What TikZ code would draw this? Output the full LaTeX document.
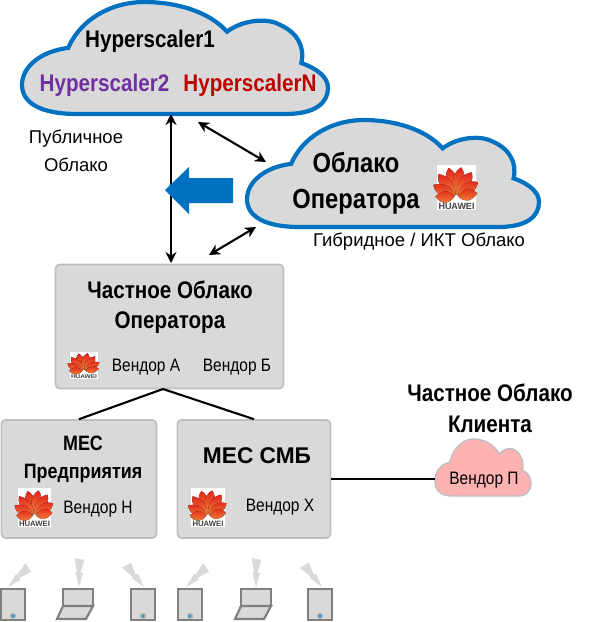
\documentclass[tikz,border=0pt]{standalone}
\usepackage{fontspec}
\setmainfont{Liberation Sans}
\newfontfamily\narrowfont[FakeStretch=0.86]{Liberation Sans}
\usetikzlibrary{arrows.meta}
\definecolor{cloudblue}{HTML}{0070C0}
\definecolor{panelgrey}{HTML}{D9D9D9}
\definecolor{panelline}{HTML}{BFBFBF}
\definecolor{hwred}{HTML}{E5231B}
\definecolor{hworange}{HTML}{F08A3C}
\newcommand{\cloudpath}{(.151,.41) .. controls (.19,.16) and (.29,0) .. (.40,0) .. controls (.50,0) and (.61,.08) .. (.67,.265) .. controls (.72,.16) and (.80,.14) .. (.84,.20) .. controls (.90,.27) and (.925,.40) .. (.913,.545) .. controls (.97,.60) and (1,.68) .. (1,.765) .. controls (1,.90) and (.96,1) .. (.86,1) -- (.18,1) .. controls (.06,1) and (0,.90) .. (0,.74) .. controls (0,.58) and (.06,.44) .. (.151,.41) -- cycle}
\tikzset{
  cloudbig/.style={draw=cloudblue,line width=4.2pt,fill=panelgrey},
  cloudsmall/.style={draw=panelline,line width=1.4pt,fill=red!30},
  panel/.style={draw=panelline,line width=1.6pt,fill=panelgrey,rounded corners=4pt,inner sep=0pt},
  head/.style={font=\narrowfont\bfseries\fontsize{24}{30}\selectfont,align=center,inner sep=0pt},
  label/.style={font=\narrowfont\fontsize{18}{28}\selectfont,align=center,inner sep=0pt},
  widelabel/.style={font=\fontsize{18.5}{28}\selectfont,align=center,inner sep=0pt},
  link/.style={draw=black,line width=2.1pt},
  biarrow/.style={link,{Stealth[length=11pt,width=11pt]}-{Stealth[length=11pt,width=11pt]}},
  devbox/.style={draw=black!50,line width=2.2pt,fill=panelgrey},
  huawei/.pic={
    \fill[white] (-19.5,-32) rectangle (19.5,13);
    \foreach \r/\l in {12/30,-12/30,35/29,-35/29,59/26,-59/26,84/21,-84/21}{
      \fill[top color=hwred,bottom color=hworange,rotate=\r] (0,-2) .. controls (-9,-8) and (-9,-\l+6) .. (-1.5,-\l) .. controls (7,-\l+8) and (6,-8) .. (0,-2);}
    \node[transform shape,inner sep=0pt,text=black!75,font=\bfseries\fontsize{9}{9}\selectfont] (-name) at (0,9) {HUAWEI};
  },
  phone/.pic={
    \draw[devbox] (0,0) rectangle (24,31);
    \fill[black!30] (12,27) circle (3.2);
    \fill[cyan!80!blue] (12,27) circle (1.6);
  },
  laptop/.pic={
    \draw[devbox] (0,0) rectangle (30,17);
    \draw[devbox] (0,17) -- (30,17) -- (23,30) -- (-6,30) -- cycle;
  },
  bolt/.pic={
    \fill[black!15] (0,0) -- (4,-14) -- (1.5,-14.5) -- (5.5,-27) -- (-4.5,-29) -- (-2,-15) -- (-3.5,-15) -- cycle;
  }
}
\begin{document}
\begin{tikzpicture}[x=1pt,y=-1pt]
  \useasboundingbox (0,0) rectangle (592,622);
  \begin{scope}[shift={(22,2)},x=306pt,y=-112pt]
    \path[cloudbig] \cloudpath;
  \end{scope}
  \begin{scope}[shift={(247,120)},x=292pt,y=-107pt]
    \path[cloudbig] \cloudpath;
  \end{scope}
  \begin{scope}[shift={(435,439)},x=96pt,y=-57pt]
    \path[cloudsmall] \cloudpath;
  \end{scope}

  \node[panel,minimum width=228pt,minimum height=124pt] (opbox) at (169.5,326.5) {};
  \node[panel,minimum width=155pt,minimum height=118pt] (entbox) at (79,479) {};
  \node[panel,minimum width=153pt,minimum height=118pt] (smbbox) at (254,479) {};

  \coordinate (topfoot) at (171,114);
  \coordinate (opneck) at (171,263);
  \coordinate (topright) at (198,122);
  \coordinate (cloudleft) at (266,162);
  \coordinate (cloudfoot) at (256,227);
  \coordinate (opright) at (209,255);
  \coordinate (opfoot) at (163,389);
  \coordinate (clientleft) at (435,479);

  \draw[biarrow] (topfoot) -- (opneck);
  \draw[biarrow] (topright) -- (cloudleft);
  \draw[biarrow] (cloudfoot) -- (opright);
  \draw[link] (opfoot) -- (entbox.north);
  \draw[link] (opfoot) -- (smbbox.north);
  \draw[link] (smbbox.east) -- (clientleft);
  \fill[cloudblue] (233,178) -- (189,178) -- (189,167) -- (165,190) -- (189,214) -- (189,203) -- (233,203) -- cycle;

  \node[head] (hyper1) at (150,41) {Hyperscaler1};
  \node[head,text={rgb,255:red,112;green,48;blue,160}] (hyper2) at (104.5,85) {Hyperscaler2};
  \node[head,text={rgb,255:red,192;green,0;blue,0}] (hyperN) at (250,85) {HyperscalerN};
  \node[widelabel] (publiclbl) at (76,151) {Публичное\\Облако};
  \node[head,font=\narrowfont\bfseries\fontsize{27.6}{36}\selectfont] (opcloud) at (356,183) {Облако\\Оператора};
  \node[widelabel] (hybrid) at (419,242) {Гибридное / ИКТ Облако};
  \node[head] (optitle) at (170,307) {Частное Облако\\Оператора};
  \node[label] (vendorA) at (146,367) {Вендор А};
  \node[label] (vendorB) at (237,367) {Вендор Б};
  \node[head,font=\narrowfont\bfseries\fontsize{20.8}{28}\selectfont] (enttitle) at (83,459) {МЕС\\Предприятия};
  \node[label] (vendorN) at (98,509) {Вендор Н};
  \node[head,font=\bfseries\fontsize{22.7}{24}\selectfont] (smbtitle) at (257,456) {МЕС СМБ};
  \node[label] (vendorX) at (280,507) {Вендор Х};
  \node[head,font=\narrowfont\bfseries\fontsize{24}{31}\selectfont] (clienttitle) at (490,408.5) {Частное Облако\\Клиента};
  \node[label] (vendorP) at (484,480) {Вендор П};

  \pic[scale=1] (logoC) at (456.5,197) {huawei};
  \pic[xscale=.72,yscale=.6] (logoA) at (84,371) {huawei};
  \pic[scale=.86] (logoN) at (34.5,516) {huawei};
  \pic[scale=.86] (logoX) at (208,516) {huawei};

  \foreach \x in {1,131,178,308}{\pic at (\x,589) {phone};}
  \foreach \x in {63,241}{\pic at (\x,589) {laptop};}
  \foreach \x/\r in {8/-45,79/0,144/40,186/-45,256/0,322/40}{\pic[rotate=\r] at (\x,587) {bolt};}
\end{tikzpicture}
\end{document}
